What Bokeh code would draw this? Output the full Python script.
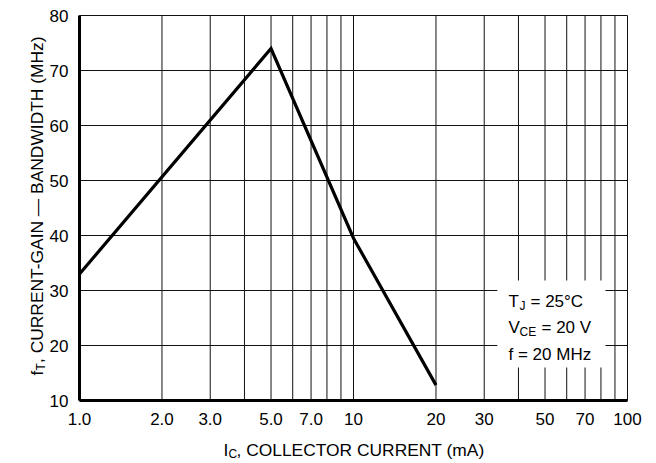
import math
from bokeh.plotting import figure
from bokeh.models import FixedTicker, BoxAnnotation, Label, Range1d
from bokeh.embed import file_html
from bokeh.resources import INLINE

# ---- data ----
ic_ma = [1.0, 5.0, 10.0, 20.0]
ft_mhz = [33.0, 74.0, 39.5, 12.8]

x_ticks = [1, 2, 3, 5, 7, 10, 20, 30, 50, 70, 100]
x_tick_labels = ["1.0", "2.0", "3.0", "5.0", "7.0", "10", "20", "30", "50", "70", "100"]
x_grid = [1, 2, 3, 4, 5, 6, 7, 8, 9, 10, 20, 30, 40, 50, 60, 70, 80, 90, 100]
y_ticks = [10, 20, 30, 40, 50, 60, 70, 80]

# ---- layout (pixels) ----
W, H = 656, 463
PL, PR, PT, PB = 79, 627, 15, 400   # plot-area edges inside the canvas

x_lo, x_hi = x_grid[0], x_grid[-1]
y_lo, y_hi = y_ticks[0], y_ticks[-1]
dec_px = (PR - PL) / (math.log10(x_hi) - math.log10(x_lo))
L0 = math.log10(x_lo) - PL / dec_px
L1 = math.log10(x_hi) + (W - PR) / dec_px
ypx = (PB - PT) / (y_hi - y_lo)
Y0 = y_lo - (H - PB) / ypx
Y1 = y_hi + PT / ypx

FONT = "Liberation Sans"
FS = "17px"
TFS = "17.4px"
SUB_FS = "12px"

p = figure(width=W, height=H, x_axis_type="log",
           x_range=Range1d(10 ** L0, 10 ** L1), y_range=Range1d(Y0, Y1),
           output_backend="svg", toolbar_location=None,
           min_border_left=0, min_border_right=0,
           min_border_top=0, min_border_bottom=0)
p.background_fill_color = "white"
p.border_fill_color = "white"
p.outline_line_color = None
p.xgrid.visible = False
p.ygrid.visible = False

# grid lines (plot-area only)
p.segment(x0=x_grid, y0=[y_lo] * len(x_grid), x1=x_grid, y1=[y_hi] * len(x_grid),
          line_color="#111111", line_width=1, level="underlay")
p.segment(x0=[x_lo] * len(y_ticks), y0=y_ticks, x1=[x_hi] * len(y_ticks), y1=y_ticks,
          line_color="#111111", line_width=1, level="underlay")

# axes fixed at the plot-area edges
p.xaxis.fixed_location = y_lo
p.yaxis.fixed_location = x_lo
p.xaxis.bounds = (x_lo, x_hi)
p.yaxis.bounds = (y_lo, y_hi)
p.xaxis.ticker = FixedTicker(ticks=x_ticks)
p.xaxis.major_label_overrides = {t: l for t, l in zip(x_ticks, x_tick_labels)}
p.yaxis.ticker = FixedTicker(ticks=y_ticks)
for ax in (p.xaxis, p.yaxis):
    ax.axis_line_color = "black"
    ax.axis_line_width = 3
    ax.major_tick_line_color = None
    ax.minor_tick_line_color = None
    ax.major_label_text_font = FONT
    ax.major_label_text_font_size = FS
    ax.major_label_text_color = "black"
p.xaxis.major_label_standoff = 6
p.yaxis.major_label_standoff = 5

p.line(ic_ma, ft_mhz, line_color="black", line_width=3.2, line_join="miter")

# annotation box (white patch behind the conditions text)
box_l, box_r, box_t, box_b = 33.5, 83.1, 31.8, 16.0
p.add_layout(BoxAnnotation(left=box_l, right=box_r, top=box_t, bottom=box_b,
                           fill_color="white", fill_alpha=1.0, line_color=None))

def sl(px, py, text, size=FS, angle=0.0):
    # px, py: canvas pixels from the top-left corner
    p.add_layout(Label(x=px, y=H - py, x_units="screen", y_units="screen", text=text,
                       text_font=FONT, text_font_size=size, text_color="black",
                       text_align="left", text_baseline="alphabetic", angle=angle))

# conditions text
sl(508, 301, "T")
sl(519, 305, "J", SUB_FS)
sl(530, 301, "= 25°C")
sl(508, 327, "V")
sl(519, 331, "CE", SUB_FS)
sl(541, 327, "= 20 V")
sl(508, 354, "f = 20 MHz")

# x axis title
sl(223, 449, "I", TFS)
sl(228, 453, "C", SUB_FS)
sl(236, 449, ", COLLECTOR CURRENT (mA)", TFS)

# y axis title (rotated, reads bottom to top)
a = math.pi / 2
sl(36, 375, "f", TFS, angle=a)
sl(40, 370, "T", SUB_FS, angle=a)
sl(36, 362.5, ", CURRENT-GAIN \u2014 BANDWIDTH (MHz)", TFS, angle=a)

open("out.html", "w").write(file_html(p, INLINE))
